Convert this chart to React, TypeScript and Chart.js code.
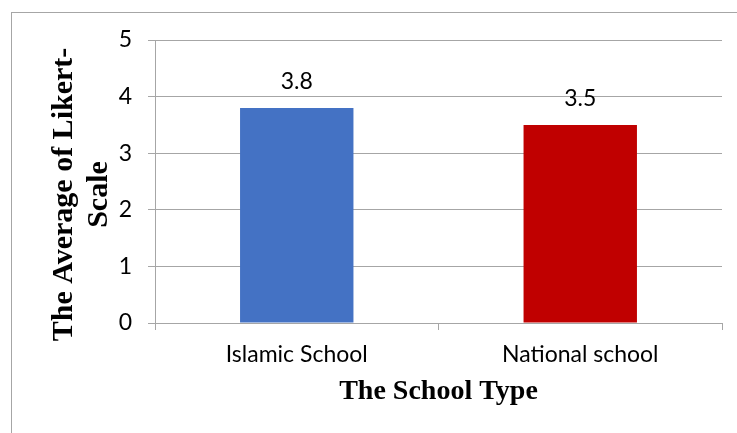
import React, { useEffect, useRef } from "react";
import { Chart, registerables } from "chart.js";

Chart.register(...registerables);

const categories = ["Islamic School", "National school"];
const averages = [3.8, 3.5];
const barColors = ["#4472C4", "#C00000"];
const yMin = 0;
const yMax = 5;
const yStep = 1;
const yTitleLines = ["The Average of Likert-", "Scale"];
const xTitleText = "The School Type";

const SANS = "Lato, 'Open Sans', sans-serif";
const SERIF = "'Liberation Serif', 'Times New Roman', serif";
const GRID = "#a6a6a6";
const TEXT = "#000000";

const valueLabels = {
  id: "valueLabels",
  afterDatasetsDraw(chart: any) {
    const ctx = chart.ctx;
    const meta = chart.getDatasetMeta(0);
    ctx.save();
    ctx.font = `23px ${SANS}`;
    ctx.fillStyle = TEXT;
    ctx.textAlign = "center";
    ctx.textBaseline = "middle";
    meta.data.forEach((bar: any, i: number) => {
      ctx.fillText(String(averages[i]), bar.x, bar.y - 26);
    });
    ctx.restore();
  },
};

// Rotated two-line y-axis title, placed relative to the y scale
const yAxisTitle = {
  id: "yAxisTitle",
  afterDraw(chart: any) {
    const ctx = chart.ctx;
    const area = chart.chartArea;
    const cy = (area.top + area.bottom) / 2 + 13;
    const baselines = [72, 107];
    ctx.save();
    ctx.font = `bold 30px ${SERIF}`;
    ctx.fillStyle = "#000";
    ctx.textAlign = "center";
    ctx.textBaseline = "alphabetic";
    yTitleLines.forEach((line, i) => {
      ctx.save();
      ctx.translate(baselines[i], cy);
      ctx.rotate(-Math.PI / 2);
      ctx.fillText(line, 0, 0);
      ctx.restore();
    });
    ctx.restore();
  },
};

export default function App() {
  const ref = useRef<HTMLCanvasElement | null>(null);

  useEffect(() => {
    if (!ref.current) return;
    const chart = new Chart(ref.current, {
      type: "bar",
      data: {
        labels: categories,
        datasets: [
          {
            data: averages,
            backgroundColor: barColors,
            borderWidth: 0,
            barPercentage: 0.4,
            categoryPercentage: 1,
          },
        ],
      },
      options: {
        animation: false,
        responsive: false,
        devicePixelRatio: 1,
        layout: { padding: { left: 0, right: 15, top: 40, bottom: 0 } },
        plugins: {
          legend: { display: false },
          tooltip: { enabled: false },
        },
        scales: {
          x: {
            afterFit: (s: any) => {
              s.height = 110;
            },
            grid: {
              offset: true,
              drawOnChartArea: false,
              drawTicks: true,
              tickLength: 7,
              color: GRID,
              lineWidth: 1,
            },
            border: { display: true, color: GRID, width: 1 },
            ticks: {
              font: { family: SANS, size: 23 },
              color: TEXT,
              padding: 11,
              maxRotation: 0,
            },
            title: {
              display: true,
              text: xTitleText,
              font: { family: SERIF, size: 28, weight: "bold", lineHeight: 1.2 },
              color: "#000",
              padding: { top: 0, bottom: 24 },
            },
          },
          y: {
            min: yMin,
            max: yMax,
            afterFit: (s: any) => {
              s.width = 155;
            },
            grid: {
              color: GRID,
              lineWidth: 1,
              drawTicks: true,
              tickLength: 7,
            },
            border: { display: true, color: GRID, width: 1 },
            ticks: {
              stepSize: yStep,
              font: { family: SANS, size: 23 },
              color: TEXT,
              padding: 16,
            },
            title: { display: false },
          },
        },
      },
      plugins: [valueLabels, yAxisTitle],
    });
    return () => chart.destroy();
  }, []);

  return (
    <div
      style={{
        position: "fixed",
        left: 0,
        top: 0,
        width: 737,
        height: 433,
        background: "#fff",
        overflow: "hidden",
      }}
    >
      <div
        style={{
          position: "absolute",
          left: 11,
          top: 12,
          width: 800,
          height: 500,
          borderTop: `1px solid ${GRID}`,
          borderLeft: `1px solid ${GRID}`,
        }}
      />
      <canvas
        ref={ref}
        width={737}
        height={433}
        style={{ position: "absolute", left: 0, top: 0, width: 737, height: 433 }}
      />
    </div>
  );
}
